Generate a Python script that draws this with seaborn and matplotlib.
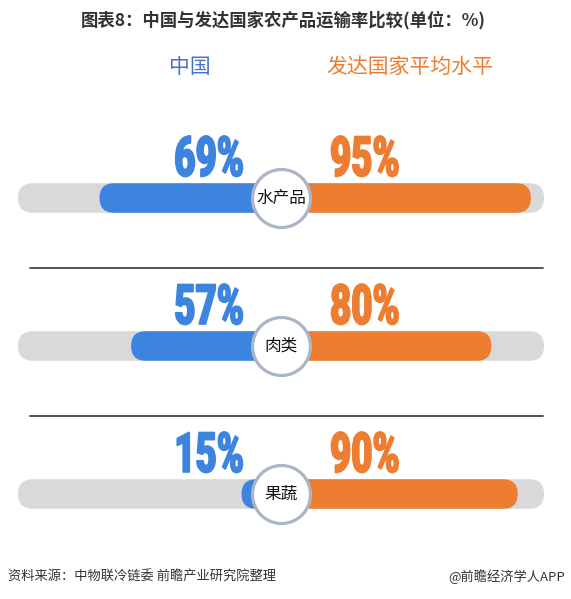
import numpy as np
import pandas as pd
import matplotlib
matplotlib.use('Agg')
import matplotlib.pyplot as plt
from matplotlib.patches import FancyBboxPatch
from matplotlib import patheffects
from matplotlib.transforms import Affine2D
import seaborn as sns

# data
categories = ['水产品', '肉类', '果蔬']
china = [69, 57, 15]
developed = [95, 80, 90]
series_names = ['中国', '发达国家平均水平']
full_scale = 100

blue = '#3d84df'
orange = '#ed7d31'
grey = '#d9d9d9'

sns.set_style('white')
plt.rcParams['font.family'] = ['Noto Sans CJK SC', 'DejaVu Sans']

W, H = 571, 599
fig = plt.figure(figsize=(W / 100, H / 100), dpi=100)
ax = fig.add_axes([0, 0, 1, 1])

# pixel layout helpers
px_x = 2.63      # pixels per x unit
px_y = 148       # pixels per category step
cx, cy0 = 281, 198   # centre of first circle in pixels


class Squeeze(patheffects.AbstractPathEffect):
    """narrow (and slightly embolden) the glyphs around an anchor x in display coords"""
    def __init__(self, sx, x0, lw=1.0):
        super().__init__()
        self.sx, self.x0, self.lw = sx, x0, lw

    def draw_path(self, renderer, gc, tpath, affine, rgbFace=None):
        a = affine + Affine2D().translate(-self.x0, 0).scale(self.sx, 1).translate(self.x0, 0)
        gc0 = renderer.new_gc()
        gc0.copy_properties(gc)
        gc0.set_linewidth(self.lw)
        gc0.set_foreground(rgbFace)
        renderer.draw_path(gc0, tpath, a, rgbFace)
        gc0.restore()


df_bg = pd.DataFrame({
    'cat': categories * 2,
    'side': ['l'] * len(categories) + ['r'] * len(categories),
    'val': [-full_scale] * len(categories) + [full_scale] * len(categories),
})
df = pd.DataFrame({
    'cat': categories * 2,
    'series': [series_names[0]] * len(categories) + [series_names[1]] * len(categories),
    'val': [-v for v in china] + developed,
})

sns.barplot(data=df_bg, x='val', y='cat', hue='side', order=categories,
            palette=[grey, grey], dodge=False, orient='h', width=0.2,
            errorbar=None, ax=ax, saturation=1, legend=False)
sns.barplot(data=df, x='val', y='cat', hue='series', order=categories,
            hue_order=series_names, palette=[blue, orange], dodge=False,
            orient='h', width=0.2, errorbar=None, ax=ax, saturation=1, legend=False)

# rounded bar ends
aspect = px_x / px_y
for p in list(ax.patches):
    bb = p.get_bbox()
    x0, x1 = min(bb.x0, bb.x1), max(bb.x0, bb.x1)
    y0, y1 = min(bb.y0, bb.y1), max(bb.y0, bb.y1)
    r = (y1 - y0) / aspect / 2
    fb = FancyBboxPatch((x0, y0), x1 - x0, y1 - y0,
                        boxstyle=f'round,pad=0,rounding_size={r}',
                        mutation_aspect=aspect, fc=p.get_facecolor(),
                        ec='none', zorder=p.get_zorder())
    p.remove()
    ax.add_patch(fb)

ax.set_xlim(-cx / px_x, (W - cx) / px_x)
ax.set_ylim((H - cy0) / px_y, -cy0 / px_y)
ax.axis('off')

# centre circles + category names
pos = np.arange(len(categories))
ax.scatter(np.zeros(len(categories)), pos, s=1745, c='white',
           edgecolors='#aab5c7', linewidths=2.3, zorder=5)
for i, c in enumerate(categories):
    ax.text(0, i, c, ha='center', va='center', fontsize=12, color='#111111', zorder=6)

# percent labels (tall, narrow digits)
pct_font = dict(family=['Roboto', 'DejaVu Sans'], weight='heavy', fontsize=40)
lx, rx = -37 / px_x, 49 / px_x
for i in range(len(categories)):
    yb = i - 22 / px_y
    xl = ax.transData.transform((lx, yb))[0]
    xr = ax.transData.transform((rx, yb))[0]
    ax.text(lx, yb, f'{china[i]}%', ha='right', va='baseline', color=blue,
            path_effects=[Squeeze(0.66, xl, 1.2)], **pct_font)
    ax.text(rx, yb, f'{developed[i]}%', ha='left', va='baseline', color=orange,
            path_effects=[Squeeze(0.66, xr, 1.2)], **pct_font)

# separators
for i in range(len(categories) - 1):
    ax.axhline(i + 0.47, xmin=0.053, xmax=0.951, color='#444444', lw=1.3)

# title, legend, footer
fig.text(283 / W, 1 - 20 / H, '图表8：中国与发达国家农产品运输率比较(单位：%)',
         ha='center', va='center', fontsize=12.5, fontweight='bold', color='#333333')
fig.text(190 / W, 1 - 67 / H, series_names[0], ha='center', va='center',
         fontsize=15, color='#4472c4')
fig.text(410 / W, 1 - 67 / H, series_names[1], ha='center', va='center',
         fontsize=15, color=orange)
fig.text(8 / W, 1 - 577 / H, '资料来源：中物联冷链委 前瞻产业研究院整理',
         ha='left', va='center', fontsize=9.5, color='#333333')
fig.text(565 / W, 1 - 577 / H, '@前瞻经济学人APP',
         ha='right', va='center', fontsize=9.5, color='#333333')

fig.savefig('out.png', dpi=100)
